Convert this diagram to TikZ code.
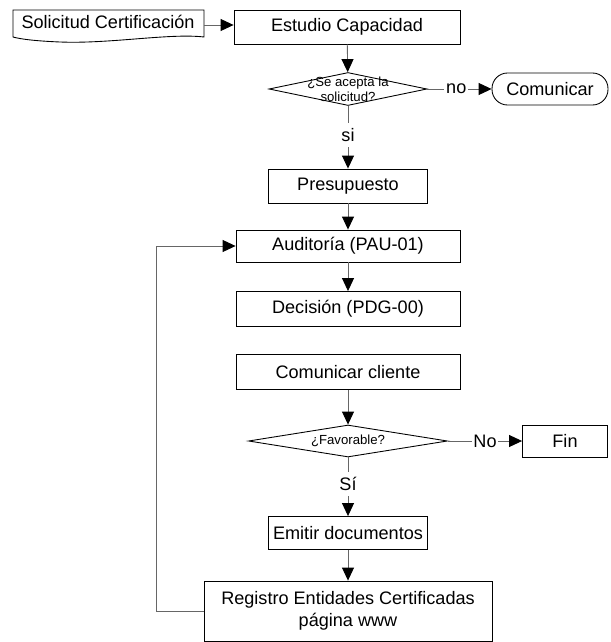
\documentclass[tikz,border=0pt]{standalone}
\usepackage{fontspec}
\setmainfont{Liberation Sans}
\usetikzlibrary{shapes.geometric,arrows.meta}

\tikzset{
  box/.style={draw,minimum height=.68cm,inner sep=1pt,font=\fontsize{10.3}{12.5}\selectfont},
  decision/.style={draw,diamond,aspect=5,inner sep=0pt},
  qtext/.style={font=\fontsize{7.5}{8.5}\selectfont,align=center,inner sep=0pt},
  conn/.style={draw=black!60,-{Triangle[length=2.6mm,width=2.4mm,color=black]}},
  lbl/.style={fill=white,inner xsep=1pt,inner ysep=3pt,font=\fontsize{10.3}{12.5}\selectfont}
}

\begin{document}
\begin{tikzpicture}[x=.02cm,y=-.02cm,line width=.5pt]
\useasboundingbox (0,0) rectangle (611,642);
% documento de entrada
\node[inner sep=0pt,font=\fontsize{10.3}{12.5}\selectfont] (sol) at (108,22) {Solicitud Certificación};
\draw (13,10)--(204,10)--(204,37) .. controls (170,33) and (110,44) .. (60,42) .. controls (35,41) and (20,39) .. (13,37) -- cycle;
\node[box,minimum width=4.52cm] (est) at (347,27) {Estudio Capacidad};
\node[decision,minimum width=3.16cm,minimum height=.66cm,label={[qtext]center:¿Se acepta la\\solicitud?}] (q1) at (348,89) {};
\node[box,rounded corners=.31cm,minimum width=2.32cm,minimum height=.64cm] (com) at (550,89) {Comunicar};
\node[box,minimum width=3.18cm] (pre) at (348,186) {Presupuesto};
\node[box,minimum width=4.48cm,minimum height=.64cm] (aud) at (348,246) {Auditoría (PAU-01)};
\node[box,minimum width=4.48cm,minimum height=.7cm] (dec) at (348,309) {Decisión (PDG-00)};
\node[box,minimum width=4.48cm,minimum height=.7cm] (cli) at (348,372) {Comunicar cliente};
\node[decision,minimum width=3.98cm,minimum height=.64cm,label={[qtext]center:¿Favorable?}] (q2) at (348,441) {};
\node[box,minimum width=1.7cm,minimum height=.64cm] (fin) at (565,441) {Fin};
\node[box,minimum width=3.18cm,minimum height=.66cm] (emi) at (348,533) {Emitir documentos};
\node[box,minimum width=5.76cm,minimum height=1.2cm,align=center] (reg) at (348,611) {Registro Entidades Certificadas\\página www};
% conectores
\draw[conn] (204,25) -- (est.west |- 204,25);
\draw[conn] (est) -- (q1);
\draw[conn] (q1) -- node[lbl,pos=.45]{no} (com);
\draw[conn] (q1) -- node[lbl,pos=.47]{si} (pre);
\draw[conn] (pre) -- (aud);
\draw[conn] (aud) -- (dec);
\draw[conn] (cli) -- (q2);
\draw[conn] (q2) -- node[lbl,pos=.5]{No} (fin);
\draw[conn] (q2) -- node[lbl,pos=.45]{Sí} (emi);
\draw[conn] (emi) -- (reg);
\draw[conn] (reg.west) -- ++(-47,0) |- (aud.west);
\end{tikzpicture}
\end{document}
